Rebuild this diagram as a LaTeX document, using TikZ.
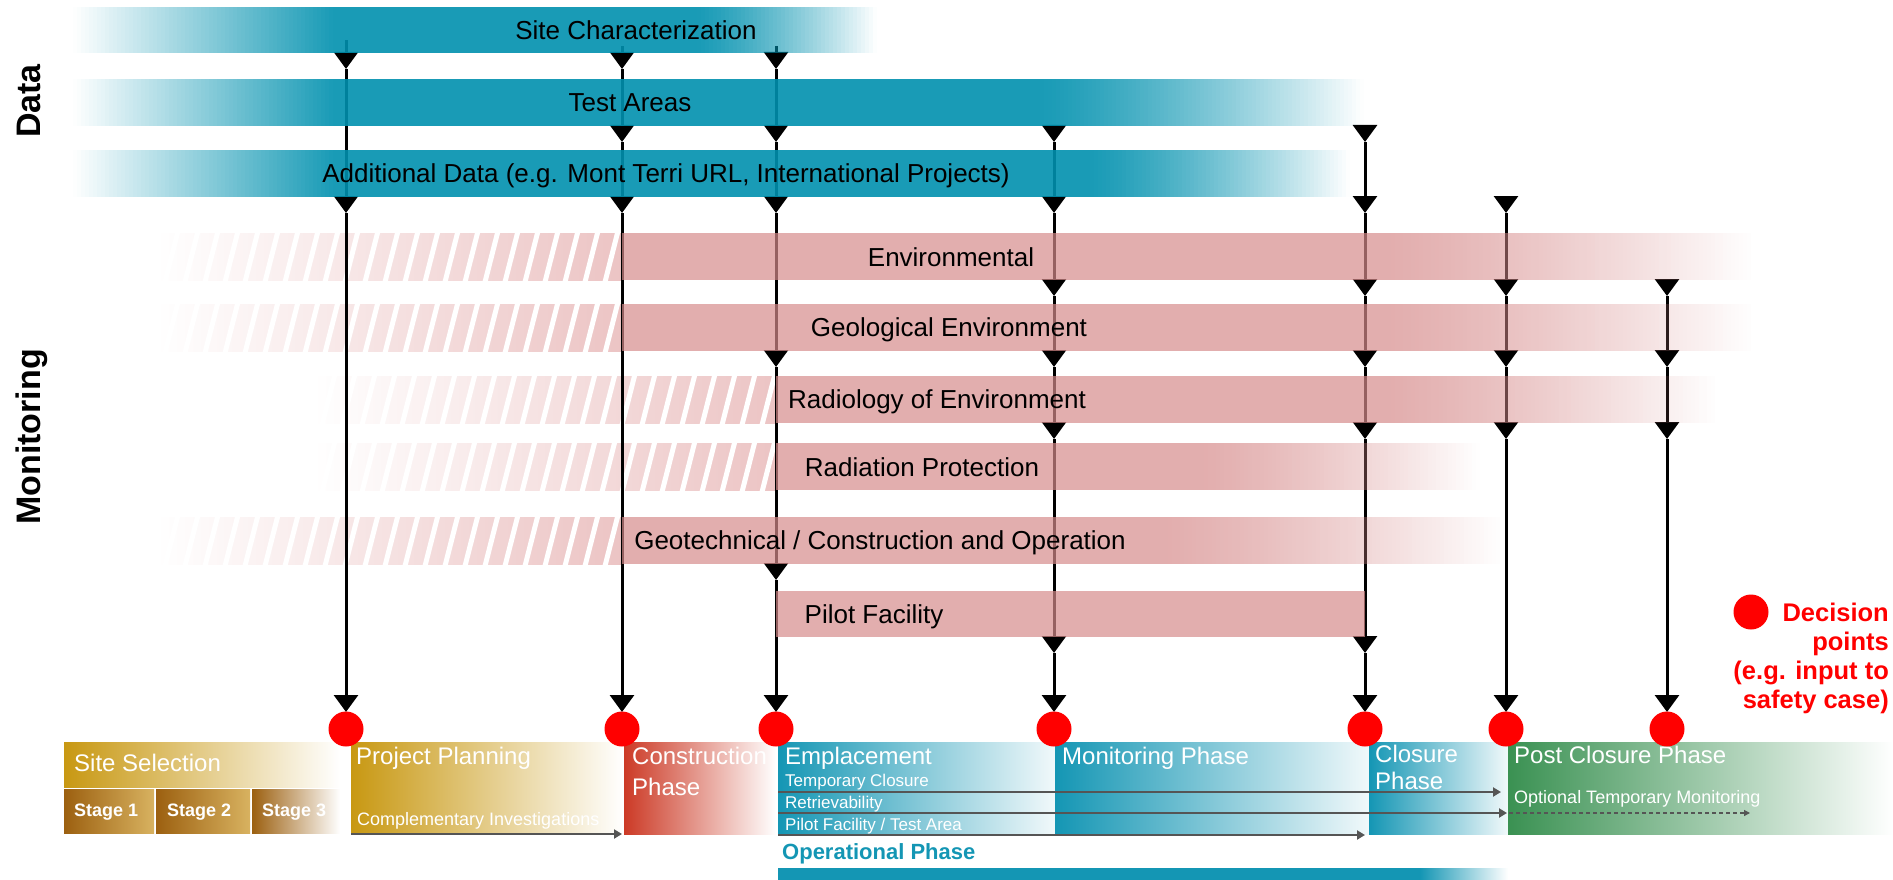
\documentclass[tikz,border=0pt]{standalone}
\usepackage{fontspec}
\setmainfont{Liberation Sans}
\usetikzlibrary{arrows.meta}
\definecolor{tealD}{RGB}{0,144,174}
\definecolor{pinkD}{RGB}{214,139,139}
\definecolor{pinkH}{RGB}{236,196,196}
\definecolor{goldA}{RGB}{200,152,18}
\definecolor{brownA}{RGB}{156,96,16}
\definecolor{goldL}{RGB}{216,178,96}
\definecolor{redA}{RGB}{204,58,38}
\definecolor{tealB}{RGB}{20,150,180}
\definecolor{greenA}{RGB}{58,145,82}
\definecolor{grayA}{RGB}{85,85,85}
\definecolor{dotred}{RGB}{255,0,0}

% stepped fade-in: colour, alpha, ytop, ybot, x0, x1
\newcommand\mfadein[6]{%
  \pgfmathtruncatemacro\mfn{(#6-#5)/4}%
  \foreach \i in {1,...,\mfn}{%
    \pgfmathsetmacro\mfop{#2*((\i-0.5)/\mfn)}%
    \fill[#1, fill opacity=\mfop] ({#5+4*\i-4},#3) rectangle ({#5+4*\i},#4);
  }%
}
% stepped fade-out: colour, alpha, ytop, ybot, x0, x1
\newcommand\mfadeout[6]{%
  \pgfmathtruncatemacro\mfn{(#6-#5)/4}%
  \foreach \i in {1,...,\mfn}{%
    \pgfmathsetmacro\mfop{#2*(1-((\i-0.5)/\mfn)^1.3)}%
    \fill[#1, fill opacity=\mfop] ({#5+4*\i-4},#3) rectangle ({#5+4*\i},#4);
  }%
}
% bar with fade-in and fade-out
\newcommand\mybar[8]{%
  \mfadein{#1}{#2}{#3}{#4}{#5}{#6}
  \fill[#1, fill opacity=#2] (#6,#3) rectangle (#7,#4);
  \mfadeout{#1}{#2}{#3}{#4}{#7}{#8}
}
% bar with fade-out only
\newcommand\mybarrr[7]{%
  \fill[#1, fill opacity=#2] (#5,#3) rectangle (#6,#4);
  \mfadeout{#1}{#2}{#3}{#4}{#6}{#7}
}
% hatched (planned) part of a monitoring bar
\newcommand\myhatch[4]{%
  \begin{scope}
    \clip (#3,#1) rectangle (#4,#2);
    \shade[left color=white, right color=pinkH] (#3,#1) rectangle (#4,#2);
    \foreach \k in {0,20,...,500}
      \draw[white, line width=5pt] (#3+\k-12,#2+2) -- (#3+\k+1,#1-2);
  \end{scope}
}

\tikzset{
  vl/.style={line width=3pt, -{Triangle[width=24pt,length=17pt]}},
  blab/.style={font=\fontsize{26}{31}\selectfont, inner sep=0pt, text height=19pt, text depth=0pt},
  ph/.style={font=\fontsize{24}{28}\selectfont, text=white, inner sep=0pt, anchor=west, text height=17pt, text depth=0pt},
  phs/.style={font=\fontsize{18}{22}\selectfont, text=white, inner sep=0pt, anchor=west, text height=13pt, text depth=0pt},
  phx/.style={font=\fontsize{17}{21}\selectfont, text=white, inner sep=0pt, anchor=west, text height=12pt, text depth=0pt},
  stg/.style={font=\bfseries\fontsize{18}{22}\selectfont, text=white, inner sep=0pt, anchor=west, text height=13pt, text depth=0pt},
  side/.style={font=\bfseries\fontsize{34}{40}\selectfont, rotate=90, inner sep=0pt, text height=24.5pt, text depth=0pt},
  dot/.style={circle, fill=dotred, minimum size=35pt, inner sep=0pt},
  dec/.style={font=\bfseries\fontsize{25.5}{29}\selectfont, text=dotred, inner sep=0pt, anchor=base east},
  ba/.style={draw=grayA, line width=2.2pt, -{Triangle[width=9pt,length=8pt]}},
  bad/.style={draw=grayA, line width=1.2pt, dash pattern=on 4pt off 3pt, -{Triangle[width=6pt,length=6pt]}},
}

\begin{document}
\begin{tikzpicture}[x=1pt,y=-1pt]
\useasboundingbox (0,0) rectangle (1893,880);

% ---------- hatched parts of monitoring bars ----------
\myhatch{233}{280}{157}{622}
\myhatch{304}{351}{157}{622}
\myhatch{376}{423}{314}{776}
\myhatch{443}{490}{314}{776}
\myhatch{517}{564}{157}{622}

% ---------- vertical connectors ----------
\foreach \x/\s/\ys in {346/40/{69,213,712},622/46/{69,142,213,712},776/46/{69,142,213,367,580,712},1054/126/{142,213,296,367,439,653,712},1365/126/{142,213,296,367,439,653,712},1506/197/{213,296,367,439,712},1667/280/{296,367,439,712}}{
  \coordinate (v\x-\s) at (\x,\s);
  \foreach \y [remember=\y as \py (initially \s)] in \ys {
    \coordinate (v\x-\y) at (\x,\y);
    \draw[vl] (v\x-\py) -- (v\x-\y);
  }
}

% ---------- data bars ----------
\mybar{tealD}{0.9}{7}{53}{73}{333}{697}{879}
\mybar{tealD}{0.9}{79}{126}{73}{333}{1040}{1365}
\mybar{tealD}{0.9}{150}{197}{73}{333}{1090}{1350}

% ---------- monitoring bars ----------
\mybarrr{pinkD}{0.7}{233}{280}{622}{1383}{1757}
\mybarrr{pinkD}{0.7}{304}{351}{622}{1383}{1757}
\mybarrr{pinkD}{0.7}{376}{423}{776}{1383}{1720}
\mybarrr{pinkD}{0.7}{443}{490}{776}{1200}{1480}
\mybarrr{pinkD}{0.7}{517}{564}{622}{1160}{1505}
\fill[pinkD, fill opacity=0.7] (776,591) rectangle (1365,637);

% ---------- bar labels ----------
\node[blab] (sc) at (636,30) {Site Characterization};
\node[blab] (ta) at (630,102) {Test Areas};
\node[blab] (ad) at (666,173) {Additional Data (e.g. Mont Terri URL, International Projects)};
\node[blab] (env) at (951,257) {Environmental};
\node[blab] (geo) at (949,327) {Geological Environment};
\node[blab] (rad) at (937,399) {Radiology of Environment};
\node[blab] (rp) at (922,467) {Radiation Protection};
\node[blab] (gt) at (880,540) {Geotechnical / Construction and Operation};
\node[blab] (pil) at (874,614) {Pilot Facility};

% ---------- side labels ----------
\node[side] (data) at (28,101) {Data};
\node[side] (mon) at (28,437) {Monitoring};

% ---------- phase boxes ----------
\shade[left color=goldA, right color=white] (64,742) rectangle (340,787);
\shade[left color=brownA, right color=goldL] (64,789) rectangle (154,833);
\shade[left color=brownA, right color=goldL] (156,789) rectangle (250,833);
\shade[left color=brownA, right color=white] (252,789) rectangle (340,833);
\shade[left color=goldA, right color=white] (351,742) rectangle (623,834);
\shade[left color=redA, right color=white] (624,742) rectangle (776,834);
\shade[left color=tealB, right color=tealB!6] (778,742) rectangle (1055,834);
\shade[left color=tealB, right color=tealB!6] (1055,742) rectangle (1369,834);
\shade[left color=tealB, right color=tealB!6] (1369,742) rectangle (1508,834);
\shade[left color=greenA, right color=white] (1508,742) rectangle (1893,834);

\node[ph] (ss) at (74,763) {Site Selection};
\node[stg] (st1) at (74,810) {Stage 1};
\node[stg] (st2) at (167,810) {Stage 2};
\node[stg] (st3) at (262,810) {Stage 3};
\node[ph] (pp) at (356,756) {Project Planning};
\node[phs] (ci) at (357,819) {Complementary Investigations};
\begin{scope}
  \clip (624,742) rectangle (776,834);
  \node[ph] (cp1) at (632,756) {Construction};
  \node[ph] (cp2) at (632,787) {Phase};
\end{scope}
\node[ph] (em) at (785,756) {Emplacement};
\node[phx] (tc) at (785,780) {Temporary Closure};
\node[phx] (rt) at (785,802) {Retrievability};
\node[phx] (pf) at (785,824) {Pilot Facility / Test Area};
\node[ph] (mp) at (1062,756) {Monitoring Phase};
\node[ph] (cl1) at (1375,754) {Closure};
\node[ph] (cl2) at (1375,781) {Phase};
\node[ph] (pc) at (1514,755) {Post Closure Phase};
\node[phs] (otm) at (1514,797) {Optional Temporary Monitoring};

% ---------- phase arrows ----------
\coordinate (ppa) at (351,834); \coordinate (ppb) at (622,834);
\coordinate (e1a) at (778,792); \coordinate (e1b) at (1501,792);
\coordinate (e2a) at (778,813); \coordinate (e2b) at (1507,813);
\coordinate (e2c) at (1509,813); \coordinate (e2d) at (1750,813);
\coordinate (e3a) at (778,835); \coordinate (e3b) at (1365,835);
\draw[ba] (ppa) -- (ppb);
\draw[ba] (e1a) -- (e1b);
\draw[ba] (e2a) -- (e2b);
\draw[bad] (e2c) -- (e2d);
\draw[ba] (e3a) -- (e3b);

% ---------- operational phase ----------
\node[font=\bfseries\fontsize{22}{26}\selectfont, text=tealB, inner sep=0pt, anchor=west, text height=16pt, text depth=0pt] (op) at (782,851) {Operational Phase};
\fill[tealB] (778,868) rectangle (1420,880);
\shade[left color=tealB, right color=white] (1420,868) rectangle (1508,880);

% ---------- decision points ----------
\foreach \x in {346,622,776,1054,1365,1506,1667}
  \node[dot] (d\x) at (\x,729) {};

% ---------- legend ----------
\node[dot] (legdot) at (1751,612) {};
\node[dec] (dec1) at (1889,621) {Decision};
\node[dec] (dec2) at (1889,650) {points};
\node[dec] (dec3) at (1889,679) {(e.g. input to};
\node[dec] (dec4) at (1889,708) {safety case)};
\end{tikzpicture}
\end{document}
